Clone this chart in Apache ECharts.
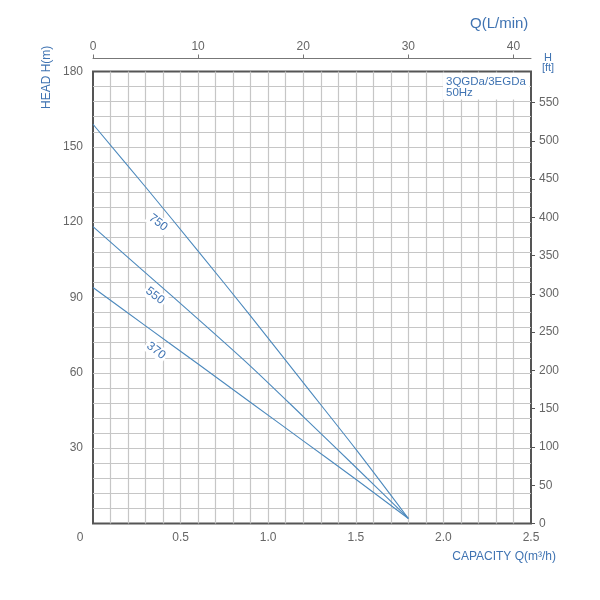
<!DOCTYPE html>
<html>
<head>
<meta charset="utf-8">
<script src="https://cdn.jsdelivr.net/npm/echarts@6/dist/echarts.min.js"></script>
<style>html,body{margin:0;padding:0;background:#fff}#c{width:600px;height:600px}</style>
</head>
<body>
<div id="c"></div>
<script>
// Data
const flowQ = [0, 0.3, 0.6, 0.9, 1.2, 1.5, 1.8];           // m3/h
const head750 = [159, 134, 108.5, 82.6, 56.1, 29.6, 2];
const head550 = [118.2, 99.8, 81.4, 62.6, 42.6, 22.4, 2];
const head370 = [94, 78.7, 63.5, 48.2, 32.9, 17.6, 2];
const seriesNames = ['750', '550', '370'];
const xTickLabels = [0, 0.5, 1.0, 1.5, 2.0, 2.5];
const yTickLabels = [30, 60, 90, 120, 150, 180];
const lpmTicks = [0, 10, 20, 30, 40];
const ftTicks = [0, 50, 100, 150, 200, 250, 300, 350, 400, 450, 500, 550];
// label anchors in data space (Q, H)
const labelAnchor = { '750': [0.372, 119.8], '550': [0.354, 90.7], '370': [0.36, 68.8] };

const BLUE = '#3f73b2';
const LINE = '#4c89bd';
const GRAY = '#666';
const FONT = 'Liberation Sans';

function pairs(h) { return flowQ.map((q, i) => [q, h[i]]); }
const heads = { '750': head750, '550': head550, '370': head370 };

const chart = echarts.init(document.getElementById('c'), null, { renderer: 'canvas' });
chart.setOption({
  animation: false,
  textStyle: { fontFamily: FONT },
  grid: { left: 93, right: 69, top: 71.5, bottom: 76.5, show: true, borderColor: '#555', borderWidth: 2, backgroundColor: 'transparent' },
  xAxis: [
    {
      type: 'value', min: 0, max: 2.5, interval: 0.1, position: 'bottom',
      axisLine: { show: false, onZero: false }, axisTick: { show: false },
      splitLine: { show: true, showMinLine: false, showMaxLine: false, lineStyle: { color: '#c6c6c6', width: 1.2 } },
      axisLabel: {
        color: GRAY, fontSize: 12, margin: 8,
        formatter: function (v) {
          const k = Math.round(v / 0.5);
          if (Math.abs(v - k * 0.5) > 1e-6) return '';
          const lbl = xTickLabels[k];
          if (lbl === undefined) return '';
          if (k === 0) return '{z|0}';
          return lbl.toFixed(1);
        },
        rich: { z: { color: GRAY, fontSize: 12, padding: [0, 26, 0, 0], fontFamily: FONT } }
      }
    },
    {
      type: 'value', min: 0, max: 2.5 * 1000 / 60, position: 'top', offset: 13,
      axisLine: { show: true, onZero: false, lineStyle: { color: '#777', width: 1 } },
      axisTick: { show: true, inside: false, length: 4, lineStyle: { color: '#777' }, customValues: lpmTicks },
      splitLine: { show: false },
      axisLabel: { color: GRAY, fontSize: 12, margin: 6, customValues: lpmTicks }
    }
  ],
  yAxis: [
    {
      type: 'value', min: 0, max: 180, interval: 6, position: 'left',
      axisLine: { show: false, onZero: false }, axisTick: { show: false },
      splitLine: { show: true, showMinLine: false, showMaxLine: false, lineStyle: { color: '#c6c6c6', width: 1.2 } },
      axisLabel: {
        color: GRAY, fontSize: 12, margin: 10,
        formatter: function (v) { return yTickLabels.indexOf(Math.round(v)) >= 0 && Math.abs(v - Math.round(v)) < 1e-6 ? String(Math.round(v)) : ''; }
      }
    },
    {
      type: 'value', min: 0, max: 180 / 0.3048, position: 'right',
      axisLine: { show: false, onZero: false },
      axisTick: { show: true, inside: false, length: 4, lineStyle: { color: '#555' }, customValues: ftTicks },
      splitLine: { show: false },
      axisLabel: { color: GRAY, fontSize: 12, margin: 8, customValues: ftTicks }
    }
  ],
  series: seriesNames.map(function (n) {
    return {
      name: n, type: 'line', xAxisIndex: 0, yAxisIndex: 0,
      data: pairs(heads[n]), smooth: 0.3, showSymbol: false, symbol: 'none',
      lineStyle: { color: LINE, width: 1.1 },
      z: 5,
      markPoint: {
        symbol: 'circle', symbolSize: 0,
        data: [{ coord: labelAnchor[n], value: n }],
        label: { show: true, formatter: n, rotate: -37, color: BLUE, fontSize: 12, fontFamily: FONT, backgroundColor: '#fff', padding: [1, 2] }
      }
    };
  }),
  graphic: [
    { type: 'text', left: 470, top: 16, style: { text: 'Q(L/min)', fill: BLUE, font: '15px "Liberation Sans"' } },
    { type: 'text', x: 548, y: 52, style: { text: 'H', fill: BLUE, font: '11px "Liberation Sans"', textAlign: 'center' } },
    { type: 'text', x: 548, y: 62, style: { text: '[ft]', fill: BLUE, font: '11px "Liberation Sans"', textAlign: 'center' } },
    { type: 'text', x: 41, y: 109, rotation: Math.PI / 2, style: { text: 'HEAD H(m)', fill: BLUE, font: '12px "Liberation Sans"' } },
    { type: 'text', x: 556, y: 551, style: { text: 'CAPACITY Q(m³/h)', fill: BLUE, font: '12px "Liberation Sans"', textAlign: 'right' } },
    { type: 'rect', z: 10, shape: { x: 443, y: 73, width: 86.5, height: 26.5 }, style: { fill: '#fff' } },
    { type: 'text', z: 11, x: 446, y: 75.5, style: { text: '3QGDa/3EGDa', fill: BLUE, font: '11.5px "Liberation Sans"' } },
    { type: 'text', z: 11, x: 446, y: 87, style: { text: '50Hz', fill: BLUE, font: '11.5px "Liberation Sans"' } }
  ]
});
</script>
</body>
</html>
